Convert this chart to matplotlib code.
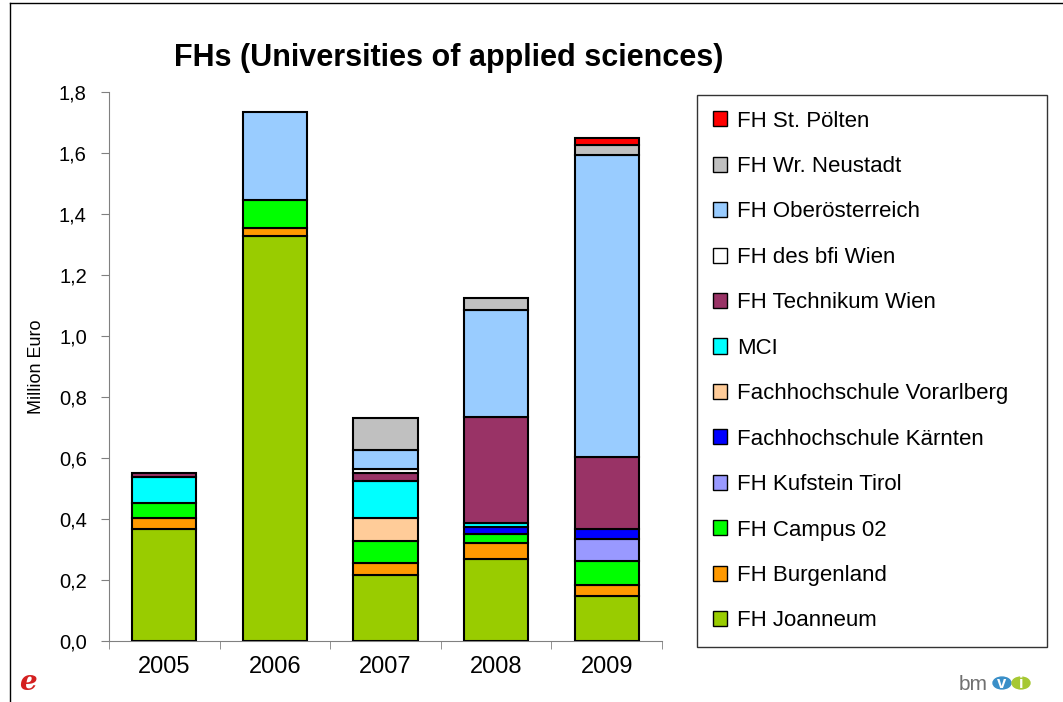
import numpy as np
import matplotlib
matplotlib.use("Agg")
import matplotlib.pyplot as plt
from matplotlib.patches import Patch, Circle
from matplotlib.lines import Line2D

plt.rcParams["font.family"] = ["Liberation Sans", "DejaVu Sans"]

# --- data (million euro) -----------------------------------------------------
years = ["2005", "2006", "2007", "2008", "2009"]

# bottom to top stacking order
series_names = [
    "FH Joanneum",
    "FH Burgenland",
    "FH Campus 02",
    "FH Kufstein Tirol",
    "Fachhochschule Kärnten",
    "Fachhochschule Vorarlberg",
    "MCI",
    "FH Technikum Wien",
    "FH des bfi Wien",
    "FH Oberösterreich",
    "FH Wr. Neustadt",
    "FH St. Pölten",
]
joanneum = [0.368, 1.327, 0.216, 0.269, 0.149]
burgenland = [0.036, 0.026, 0.040, 0.053, 0.034]
campus02 = [0.049, 0.093, 0.072, 0.030, 0.079]
kufstein = [0.0, 0.0, 0.0, 0.0, 0.072]
kaernten = [0.0, 0.0, 0.0, 0.022, 0.034]
vorarlberg = [0.0, 0.0, 0.076, 0.0, 0.0]
mci = [0.085, 0.0, 0.120, 0.012, 0.0]
technikum = [0.012, 0.0, 0.026, 0.350, 0.236]
bfi = [0.0, 0.0, 0.014, 0.0, 0.0]
oberoesterreich = [0.0, 0.288, 0.061, 0.348, 0.990]
wr_neustadt = [0.0, 0.0, 0.106, 0.040, 0.032]
st_poelten = [0.0, 0.0, 0.0, 0.0, 0.022]

series_values = [joanneum, burgenland, campus02, kufstein, kaernten, vorarlberg,
                 mci, technikum, bfi, oberoesterreich, wr_neustadt, st_poelten]
series_colors = ["#99CC00", "#FF9900", "#00FF00", "#9999FF", "#0000FF", "#FFCC99",
                 "#00FFFF", "#993366", "#FFFFFF", "#99CCFF", "#C0C0C0", "#FF0000"]

y_ticks = [0.0, 0.2, 0.4, 0.6, 0.8, 1.0, 1.2, 1.4, 1.6, 1.8]

# --- figure -------------------------------------------------------------------
W, H = 1063, 702
fig = plt.figure(figsize=(W / 100, H / 100), dpi=100)
ax = fig.add_axes([109 / W, 1 - 641 / H, (662 - 109) / W, (641 - 92) / H])

x = np.arange(len(years))
bottom = np.zeros(len(years))
for name, vals, col in zip(series_names, series_values, series_colors):
    vals = np.array(vals)
    lw = np.where(vals > 0, 1.5, 0.0)
    ax.bar(x, vals, 0.58, bottom=bottom, color=col, edgecolor="black",
           linewidth=lw, zorder=3)
    bottom += vals

ax.set_xlim(-0.5, len(years) - 0.5)
ax.set_ylim(0, 1.8)
ax.set_yticks(y_ticks)
ax.set_yticklabels([f"{v:.1f}".replace(".", ",") for v in y_ticks], fontsize=14.5)
ax.set_xticks(x)
ax.set_xticklabels(years, fontsize=17)
ax.set_xticks(np.arange(len(years) + 1) - 0.5, minor=True)
ax.tick_params(axis="x", which="major", length=0, pad=11)
ax.tick_params(axis="x", which="minor", length=6, color="#808080", direction="out")
ax.tick_params(axis="y", length=6, color="#808080", direction="out", pad=10)
for s in ["top", "right"]:
    ax.spines[s].set_visible(False)
ax.spines["left"].set_color("#808080")
ax.spines["bottom"].set_color("#808080")
ax.set_ylabel("Million Euro", fontsize=13, labelpad=10)

fig.text(449 / W, 1 - 58 / H, "FHs (Universities of applied sciences)",
         fontsize=22, fontweight="bold", ha="center", va="center")

# legend (top to bottom reversed from stacking)
handles = [Patch(facecolor=c, edgecolor="black", linewidth=1.0)
           for c in series_colors][::-1]
leg = fig.legend(handles, series_names[::-1], loc="upper left",
                 bbox_to_anchor=(697 / W, 1 - 643 / H, (1047 - 697) / W, (643 - 95) / H),
                 bbox_transform=fig.transFigure, mode="expand", fontsize=16,
                 frameon=True, fancybox=False, edgecolor="black", borderaxespad=0,
                 handlelength=0.67, handleheight=0.67, handletextpad=0.45,
                 labelspacing=1.1, borderpad=0.7)
leg.get_frame().set_linewidth(1.0)

# outer chart-area border (cropped)
fig.add_artist(Line2D([10 / W, 10 / W], [0, 1 - 3 / H], color="black", lw=1,
                      transform=fig.transFigure))
fig.add_artist(Line2D([10 / W, 1], [1 - 3 / H, 1 - 3 / H], color="black", lw=1,
                      transform=fig.transFigure))

# logos
fig.text(28 / W, 1 - 683 / H, "e", fontsize=20, color="#D42020", fontweight="bold",
         style="italic", ha="center", va="center", family="DejaVu Serif")
fig.text(988 / W, 1 - 684 / H, "bm", fontsize=15, color="#707070",
         ha="right", va="center")
fig.add_artist(Circle((1002 / W, 1 - 683 / H), 9 / W, color="#3A8FC8",
                      transform=fig.transFigure))
fig.add_artist(Circle((1021 / W, 1 - 683 / H), 9 / W, color="#A6C833",
                      transform=fig.transFigure))
fig.text(1002 / W, 1 - 684 / H, "v", fontsize=12, color="white", fontweight="bold",
         ha="center", va="center")
fig.text(1021 / W, 1 - 684 / H, "i", fontsize=12, color="white", fontweight="bold",
         ha="center", va="center")

fig.savefig("out.png", dpi=100)
